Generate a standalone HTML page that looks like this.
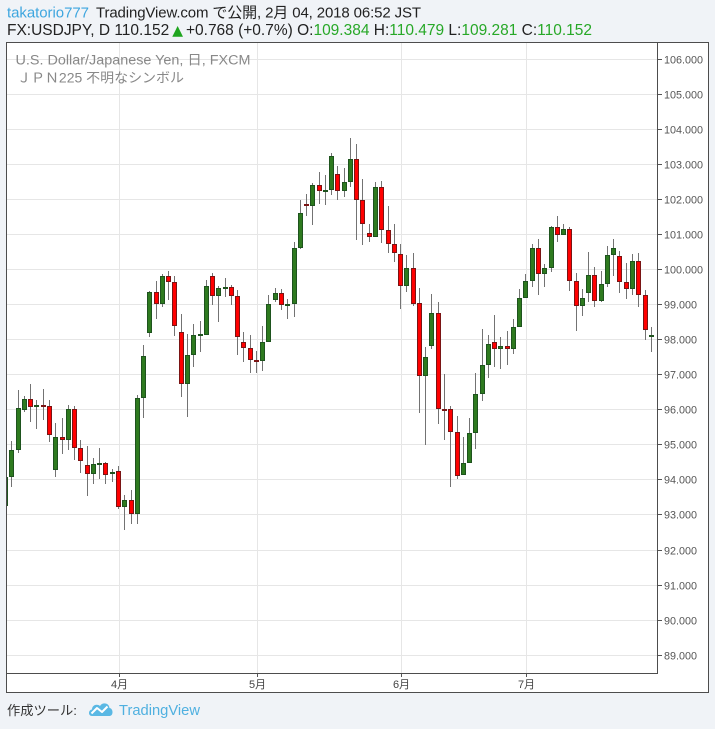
<!DOCTYPE html>
<html><head><meta charset="utf-8"><style>
html,body{margin:0;padding:0;background:#f0f3f7;}
svg{display:block;}
.g{fill:#2e7a1f;stroke:#1e531e;stroke-width:1;}
.r{fill:#ff0000;stroke:#7a1414;stroke-width:1;}
text{font-family:"Liberation Sans","Noto Sans CJK JP",sans-serif;}
</style></head><body>
<svg width="715" height="729" viewBox="0 0 715 729" xmlns="http://www.w3.org/2000/svg">
<rect x="0" y="0" width="715" height="729" fill="#f0f3f7"/>
<!-- header -->
<text x="7" y="17.5" font-size="15" fill="#3ea6df" textLength="82" lengthAdjust="spacing">takatorio777</text>
<text x="96" y="17.5" font-size="15" fill="#222" textLength="325" lengthAdjust="spacing">TradingView.com で公開, 2月 04, 2018 06:52 JST</text>
<text x="7" y="35" font-size="15.5" fill="#222" textLength="585" lengthAdjust="spacing">FX:USDJPY, D 110.152<tspan fill="#1fa51f" font-family="DejaVu Sans, sans-serif" font-size="14" dx="3">▲</tspan><tspan dx="3">+0.768 (+0.7%) O:</tspan><tspan fill="#27a827">109.384</tspan> H:<tspan fill="#27a827">110.479</tspan> L:<tspan fill="#27a827">109.281</tspan> C:<tspan fill="#27a827">110.152</tspan></text>

<!-- chart box -->
<rect x="6.5" y="42.5" width="702" height="650" fill="#fff" stroke="#4d4d4d" stroke-width="1"/>

<!-- grid -->
<g stroke="#e6e6e6" stroke-width="1">
<path d="M7 59.5H657M7 94.5H657M7 129.5H657M7 164.5H657M7 199.5H657M7 234.5H657M7 269.5H657M7 304.5H657M7 339.5H657M7 374.5H657M7 409.5H657M7 444.5H657M7 479.5H657M7 514.5H657M7 550.5H657M7 585.5H657M7 620.5H657M7 655.5H657"/>
<path d="M119.5 43V673M257.5 43V673M401.5 43V673M526.5 43V673"/>
</g>

<!-- legend -->
<text x="15.5" y="64.5" font-size="13.5" fill="#888" textLength="235" lengthAdjust="spacingAndGlyphs">U.S. Dollar/Japanese Yen, 日, FXCM</text>
<text x="17" y="82.5" font-size="13.5" fill="#888" textLength="167" lengthAdjust="spacingAndGlyphs">ＪＰＮ225 不明なシンボル</text>

<clipPath id="pc"><rect x="7" y="43" width="650" height="630"/></clipPath>
<g clip-path="url(#pc)">
<path stroke="#737373" stroke-width="1" fill="none" d="M5.5,477V506M11.5,441V487M18.5,390V453M24.5,396V412M30.5,384V422M36.5,400V429M43.5,389V420M49.5,400V442M55.5,423V477M62.5,418V454M68.5,405V450M74.5,406V460M80.5,440V473M87.5,446V496M93.5,458V484M99.5,448V479M105.5,462V484M112.5,469V482M118.5,466V509M124.5,495V530M131.5,490V524M137.5,395V524M143.5,345V418M149.5,291V337M156.5,281V319M162.5,274V307M168.5,271V300M174.5,276V336M181.5,314V397M187.5,334V417M193.5,324V367M200.5,321V352M206.5,280V335M212.5,273V305M218.5,286V322M225.5,278V297M231.5,285V305M237.5,290V355M243.5,332V362M250.5,335V373M256.5,351V373M262.5,326V371M268.5,295V342M275.5,288V302M281.5,289V310M287.5,299V319M294.5,242V317M300.5,200V249M306.5,194V216M312.5,183V225M319.5,172V204M325.5,175V205M331.5,153V195M337.5,166V200M344.5,168V197M350.5,138V187M356.5,144V240M362.5,179V245M369.5,224V242M375.5,182V237M381.5,181V243M388.5,206V253M394.5,224V262M400.5,244V309M406.5,255V292M413.5,253V306M419.5,288V413M425.5,347V445M431.5,294V349M438.5,302V424M444.5,374V440M450.5,406V487M457.5,416V479M463.5,437V475M469.5,418V463M475.5,373V449M482.5,329V401M488.5,335V378M494.5,315V367M500.5,337V369M507.5,331V365M513.5,319V354M519.5,289V327M525.5,274V298M532.5,244V287M538.5,239V295M544.5,264V287M551.5,226V272M557.5,216V242M563.5,224V235M569.5,227V291M576.5,273V331M582.5,289V316M588.5,252V302M594.5,267V307M601.5,271V302M607.5,246V287M613.5,239V276M619.5,251V293M626.5,263V299M632.5,254V295M638.5,253V307M645.5,290V340M651.5,327V352"/>
<rect class="g" x="3.5" y="477.5" width="4" height="28"/>
<rect class="g" x="9.5" y="450.5" width="4" height="26"/>
<rect class="g" x="16.5" y="408.5" width="4" height="41"/>
<rect class="g" x="22.5" y="399.5" width="4" height="10"/>
<rect class="r" x="28.5" y="399.5" width="4" height="7"/>
<rect class="g" x="34.5" y="405.5" width="4" height="1"/>
<rect class="r" x="41.5" y="405.5" width="4" height="1"/>
<rect class="r" x="47.5" y="406.5" width="4" height="28"/>
<rect class="g" x="53.5" y="437.5" width="4" height="32"/>
<rect class="r" x="60.5" y="437.5" width="4" height="2"/>
<rect class="g" x="66.5" y="409.5" width="4" height="30"/>
<rect class="r" x="72.5" y="409.5" width="4" height="38"/>
<rect class="r" x="78.5" y="448.5" width="4" height="12"/>
<rect class="r" x="85.5" y="465.5" width="4" height="8"/>
<rect class="g" x="91.5" y="464.5" width="4" height="9"/>
<rect class="g" x="97.5" y="463.5" width="4" height="1"/>
<rect class="r" x="103.5" y="463.5" width="4" height="11"/>
<rect class="g" x="110.5" y="472.5" width="4" height="1"/>
<rect class="r" x="116.5" y="471.5" width="4" height="35"/>
<rect class="g" x="122.5" y="500.5" width="4" height="6"/>
<rect class="r" x="129.5" y="500.5" width="4" height="13"/>
<rect class="g" x="135.5" y="398.5" width="4" height="115"/>
<rect class="g" x="141.5" y="356.5" width="4" height="41"/>
<rect class="g" x="147.5" y="292.5" width="4" height="40"/>
<rect class="r" x="154.5" y="292.5" width="4" height="11"/>
<rect class="g" x="160.5" y="276.5" width="4" height="27"/>
<rect class="r" x="166.5" y="276.5" width="4" height="5"/>
<rect class="r" x="172.5" y="282.5" width="4" height="43"/>
<rect class="r" x="179.5" y="332.5" width="4" height="51"/>
<rect class="g" x="185.5" y="355.5" width="4" height="28"/>
<rect class="g" x="191.5" y="335.5" width="4" height="19"/>
<rect class="g" x="198.5" y="334.5" width="4" height="1"/>
<rect class="g" x="204.5" y="286.5" width="4" height="48"/>
<rect class="r" x="210.5" y="276.5" width="4" height="19"/>
<rect class="g" x="216.5" y="288.5" width="4" height="7"/>
<rect class="g" x="223.5" y="287.5" width="4" height="1"/>
<rect class="r" x="229.5" y="287.5" width="4" height="8"/>
<rect class="r" x="235.5" y="296.5" width="4" height="40"/>
<rect class="r" x="241.5" y="342.5" width="4" height="5"/>
<rect class="r" x="248.5" y="348.5" width="4" height="11"/>
<rect class="r" x="254.5" y="360.5" width="4" height="1"/>
<rect class="g" x="260.5" y="342.5" width="4" height="18"/>
<rect class="g" x="266.5" y="304.5" width="4" height="37"/>
<rect class="g" x="273.5" y="293.5" width="4" height="6"/>
<rect class="r" x="279.5" y="293.5" width="4" height="11"/>
<rect class="g" x="285.5" y="304.5" width="4" height="1"/>
<rect class="g" x="292.5" y="248.5" width="4" height="55"/>
<rect class="g" x="298.5" y="213.5" width="4" height="34"/>
<rect class="r" x="304.5" y="204.5" width="4" height="1"/>
<rect class="g" x="310.5" y="185.5" width="4" height="20"/>
<rect class="r" x="317.5" y="185.5" width="4" height="5"/>
<rect class="g" x="323.5" y="190.5" width="4" height="1"/>
<rect class="g" x="329.5" y="156.5" width="4" height="33"/>
<rect class="r" x="335.5" y="174.5" width="4" height="16"/>
<rect class="g" x="342.5" y="182.5" width="4" height="8"/>
<rect class="g" x="348.5" y="159.5" width="4" height="22"/>
<rect class="r" x="354.5" y="159.5" width="4" height="40"/>
<rect class="r" x="360.5" y="200.5" width="4" height="23"/>
<rect class="r" x="367.5" y="233.5" width="4" height="3"/>
<rect class="g" x="373.5" y="187.5" width="4" height="49"/>
<rect class="r" x="379.5" y="187.5" width="4" height="42"/>
<rect class="r" x="386.5" y="230.5" width="4" height="13"/>
<rect class="r" x="392.5" y="244.5" width="4" height="8"/>
<rect class="r" x="398.5" y="254.5" width="4" height="31"/>
<rect class="g" x="404.5" y="268.5" width="4" height="17"/>
<rect class="r" x="411.5" y="268.5" width="4" height="35"/>
<rect class="r" x="417.5" y="303.5" width="4" height="72"/>
<rect class="g" x="423.5" y="357.5" width="4" height="18"/>
<rect class="g" x="429.5" y="313.5" width="4" height="32"/>
<rect class="r" x="436.5" y="313.5" width="4" height="95"/>
<rect class="r" x="442.5" y="409.5" width="4" height="1"/>
<rect class="r" x="448.5" y="409.5" width="4" height="22"/>
<rect class="r" x="455.5" y="432.5" width="4" height="43"/>
<rect class="g" x="461.5" y="463.5" width="4" height="11"/>
<rect class="g" x="467.5" y="433.5" width="4" height="29"/>
<rect class="g" x="473.5" y="394.5" width="4" height="38"/>
<rect class="g" x="480.5" y="365.5" width="4" height="28"/>
<rect class="g" x="486.5" y="344.5" width="4" height="20"/>
<rect class="r" x="492.5" y="342.5" width="4" height="6"/>
<rect class="g" x="498.5" y="346.5" width="4" height="2"/>
<rect class="r" x="505.5" y="346.5" width="4" height="2"/>
<rect class="g" x="511.5" y="327.5" width="4" height="21"/>
<rect class="g" x="517.5" y="298.5" width="4" height="28"/>
<rect class="g" x="523.5" y="281.5" width="4" height="16"/>
<rect class="g" x="530.5" y="248.5" width="4" height="32"/>
<rect class="r" x="536.5" y="248.5" width="4" height="25"/>
<rect class="g" x="542.5" y="268.5" width="4" height="5"/>
<rect class="g" x="549.5" y="227.5" width="4" height="40"/>
<rect class="r" x="555.5" y="227.5" width="4" height="7"/>
<rect class="g" x="561.5" y="229.5" width="4" height="5"/>
<rect class="r" x="567.5" y="229.5" width="4" height="51"/>
<rect class="r" x="574.5" y="281.5" width="4" height="24"/>
<rect class="g" x="580.5" y="298.5" width="4" height="7"/>
<rect class="g" x="586.5" y="275.5" width="4" height="17"/>
<rect class="r" x="592.5" y="275.5" width="4" height="25"/>
<rect class="g" x="599.5" y="284.5" width="4" height="16"/>
<rect class="g" x="605.5" y="255.5" width="4" height="28"/>
<rect class="g" x="611.5" y="248.5" width="4" height="6"/>
<rect class="r" x="617.5" y="256.5" width="4" height="25"/>
<rect class="r" x="624.5" y="282.5" width="4" height="6"/>
<rect class="g" x="630.5" y="261.5" width="4" height="27"/>
<rect class="r" x="636.5" y="261.5" width="4" height="33"/>
<rect class="r" x="643.5" y="295.5" width="4" height="34"/>
<rect class="g" x="649.5" y="335.5" width="4" height="1"/>
</g>

<!-- plot borders -->
<path d="M657.5 43V674M6 673.5H658" stroke="#4d4d4d" stroke-width="1" fill="none"/>

<!-- price axis -->
<path stroke="#555" stroke-width="1" d="M658 59.5H662M658 94.5H662M658 129.5H662M658 164.5H662M658 199.5H662M658 234.5H662M658 269.5H662M658 304.5H662M658 339.5H662M658 374.5H662M658 409.5H662M658 444.5H662M658 479.5H662M658 514.5H662M658 550.5H662M658 585.5H662M658 620.5H662M658 655.5H662"/>
<g font-size="11" fill="#555">
<text x="664" y="63.5" textLength="39" lengthAdjust="spacingAndGlyphs">106.000</text>
<text x="664" y="98.5" textLength="39" lengthAdjust="spacingAndGlyphs">105.000</text>
<text x="664" y="133.5" textLength="39" lengthAdjust="spacingAndGlyphs">104.000</text>
<text x="664" y="168.5" textLength="39" lengthAdjust="spacingAndGlyphs">103.000</text>
<text x="664" y="203.5" textLength="39" lengthAdjust="spacingAndGlyphs">102.000</text>
<text x="664" y="238.5" textLength="39" lengthAdjust="spacingAndGlyphs">101.000</text>
<text x="664" y="273.5" textLength="39" lengthAdjust="spacingAndGlyphs">100.000</text>
<text x="664" y="308.5" textLength="33" lengthAdjust="spacingAndGlyphs">99.000</text>
<text x="664" y="343.5" textLength="33" lengthAdjust="spacingAndGlyphs">98.000</text>
<text x="664" y="378.5" textLength="33" lengthAdjust="spacingAndGlyphs">97.000</text>
<text x="664" y="413.5" textLength="33" lengthAdjust="spacingAndGlyphs">96.000</text>
<text x="664" y="448.5" textLength="33" lengthAdjust="spacingAndGlyphs">95.000</text>
<text x="664" y="483.5" textLength="33" lengthAdjust="spacingAndGlyphs">94.000</text>
<text x="664" y="518.5" textLength="33" lengthAdjust="spacingAndGlyphs">93.000</text>
<text x="664" y="554.5" textLength="33" lengthAdjust="spacingAndGlyphs">92.000</text>
<text x="664" y="589.5" textLength="33" lengthAdjust="spacingAndGlyphs">91.000</text>
<text x="664" y="624.5" textLength="33" lengthAdjust="spacingAndGlyphs">90.000</text>
<text x="664" y="659.5" textLength="33" lengthAdjust="spacingAndGlyphs">89.000</text>
</g>

<!-- time axis -->
<path stroke="#555" stroke-width="1" d="M119.5 674V677M257.5 674V677M401.5 674V677M526.5 674V677"/>
<g font-size="11" fill="#444" text-anchor="middle">
<text x="119.5" y="688">4月</text>
<text x="257.5" y="688">5月</text>
<text x="401.5" y="688">6月</text>
<text x="526.5" y="688">7月</text>
</g>

<!-- footer -->
<text x="7" y="715" font-size="13" fill="#333" textLength="70" lengthAdjust="spacingAndGlyphs">作成ツール:</text>
<path d="M92 716 C88 716 88 710 92 709.5 C92 705 97 703.5 100 706 C102 702 109 702.5 109.5 708 C113.5 708.5 113.5 716 109.5 716 Z" fill="#5ab8e4"/>
<polyline points="91.5,713.5 97,708 102,712 107.5,706.5" fill="none" stroke="#fff" stroke-width="2" stroke-linejoin="round"/>
<text x="119" y="715" font-size="15" fill="#4fb0e0" textLength="81" lengthAdjust="spacingAndGlyphs">TradingView</text>
</svg>
</body></html>
